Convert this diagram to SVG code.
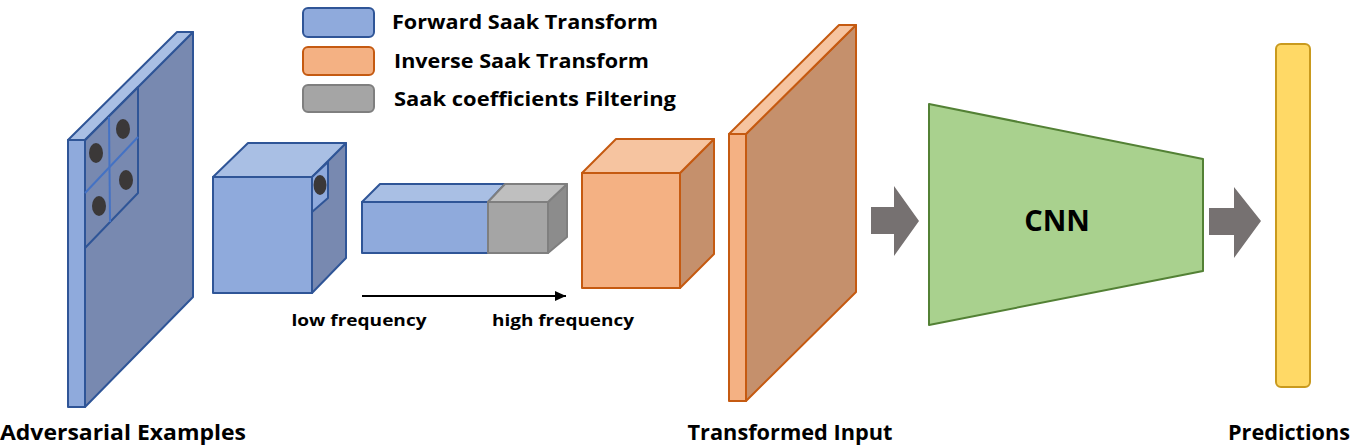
<svg xmlns="http://www.w3.org/2000/svg" width="1358" height="448" viewBox="0 0 1358 448">
<style>
.bs{stroke:#2f5597;stroke-width:2;stroke-linejoin:round}
.bf{fill:#8faadc}.bt{fill:#a9bfe4}.bd{fill:#7889b0}
.os{stroke:#c55a11;stroke-width:2;stroke-linejoin:round}
.of{fill:#f4b183}.ot{fill:#f6c4a0}.od{fill:#c5906c}
.gs{stroke:#7f7f7f;stroke-width:2;stroke-linejoin:round}
.gf{fill:#a5a5a5}.gt{fill:#bfbfbf}.gd{fill:#8c8c8c}
.dot{fill:#3b3838}
.lbl{font-family:"Open Sans","Liberation Sans",sans-serif;font-weight:bold;fill:#000}
.blk{fill:#767171}
</style>
<defs>
<marker id="ah" markerWidth="11" markerHeight="10" refX="11" refY="5" orient="auto" markerUnits="userSpaceOnUse">
<path d="M0,0 L11,5 L0,10 Z" fill="#000"/>
</marker>
</defs>

<g id="legend">
<rect x="303" y="8" width="71" height="29" rx="5" class="bs bf"/>
<rect x="303" y="47" width="71" height="28" rx="5" class="os of"/>
<rect x="303" y="85" width="71" height="27" rx="5" class="gs gf"/>
<text x="392" y="29" class="lbl" font-size="19" textLength="266" lengthAdjust="spacingAndGlyphs">Forward Saak Transform</text>
<text x="394" y="68" class="lbl" font-size="19" textLength="255" lengthAdjust="spacingAndGlyphs">Inverse Saak Transform</text>
<text x="394" y="106" class="lbl" font-size="19" textLength="282" lengthAdjust="spacingAndGlyphs">Saak coefficients Filtering</text>
</g>

<g id="adversarial">
<polygon points="85,140 193,32 193,297 85,407" class="bs bd"/>
<polygon points="68,140 177,32 193,32 85,140" class="bs bt"/>
<rect x="68" y="140" width="17" height="267" class="bs bf"/>
<polygon points="85,140 138,87 138,193 85,248" fill="none" class="bs"/>
<line x1="109" y1="117" x2="110" y2="222" stroke="#4472c4" stroke-width="2"/>
<line x1="85" y1="193" x2="138" y2="137" stroke="#4472c4" stroke-width="2"/>
<ellipse cx="123" cy="129" rx="7" ry="10" class="dot"/>
<ellipse cx="96" cy="153" rx="7" ry="10" class="dot"/>
<ellipse cx="126" cy="180" rx="7" ry="10" class="dot"/>
<ellipse cx="99" cy="206" rx="7" ry="10" class="dot"/>
<text x="123" y="440" text-anchor="middle" class="lbl" font-size="21" textLength="246" lengthAdjust="spacingAndGlyphs">Adversarial Examples</text>
</g>

<g id="cube1">
<polygon points="312,177 346,143 346,258 312,293" class="bs bd"/>
<polygon points="213,177 248,143 346,143 312,177" class="bs bt"/>
<rect x="213" y="177" width="99" height="116" class="bs bf"/>
<polygon points="312,177 328,162 328,198 312,212" class="bs bf"/>
<ellipse cx="320" cy="185" rx="6.5" ry="10" class="dot"/>
</g>

<g id="bar">
<polygon points="362,202 380,184 505,184 488,202" class="bs bt"/>
<rect x="362" y="202" width="126" height="51" class="bs bf"/>
<polygon points="548,202 567,184 567,237 548,253" class="gs gd"/>
<polygon points="488,202 505,184 567,184 548,202" class="gs gt"/>
<rect x="488" y="202" width="60" height="51" class="gs gf"/>
</g>

<g id="freq">
<text x="359" y="326" text-anchor="middle" class="lbl" font-size="16" font-weight="600" textLength="135" lengthAdjust="spacingAndGlyphs">low frequency</text>
<text x="563" y="326" text-anchor="middle" class="lbl" font-size="16" font-weight="600" textLength="142" lengthAdjust="spacingAndGlyphs">high frequency</text>
</g>

<g id="cube2">
<polygon points="680,173 714,139 714,254 680,288" class="os od"/>
<polygon points="582,173 616,139 714,139 680,173" class="os ot"/>
<rect x="582" y="173" width="98" height="115" class="os of"/>
</g>

<g id="transformed">
<polygon points="746,134 856,25 856,292 746,401" class="os od"/>
<polygon points="729,134 839,25 856,25 746,134" class="os ot"/>
<rect x="729" y="134" width="17" height="267" class="os of"/>
<text x="790" y="440" text-anchor="middle" class="lbl" font-size="21" textLength="205" lengthAdjust="spacingAndGlyphs">Transformed Input</text>
</g>

<g id="cnn">
<polygon points="929,104 1203,159 1203,271 929,325" fill="#a9d18e" stroke="#538135" stroke-width="2" stroke-linejoin="round"/>
<text x="1057" y="231" text-anchor="middle" class="lbl" font-size="29">CNN</text>
</g>

<g id="predictions">
<rect x="1276" y="44" width="34" height="343" rx="5" fill="#ffd966" stroke="#c99a1e" stroke-width="2"/>
<text x="1289" y="440" text-anchor="middle" class="lbl" font-size="21" textLength="122" lengthAdjust="spacingAndGlyphs">Predictions</text>
</g>

<g id="connectors">
<line x1="362" y1="296" x2="566" y2="296" stroke="#000" stroke-width="2" marker-end="url(#ah)"/>
<polygon points="871,207 894,207 894,186 919,221 894,256 894,234 871,234" class="blk"/>
<polygon points="1209,208 1234,208 1234,187 1261,221 1234,258 1234,235 1209,235" class="blk"/>
</g>
</svg>
